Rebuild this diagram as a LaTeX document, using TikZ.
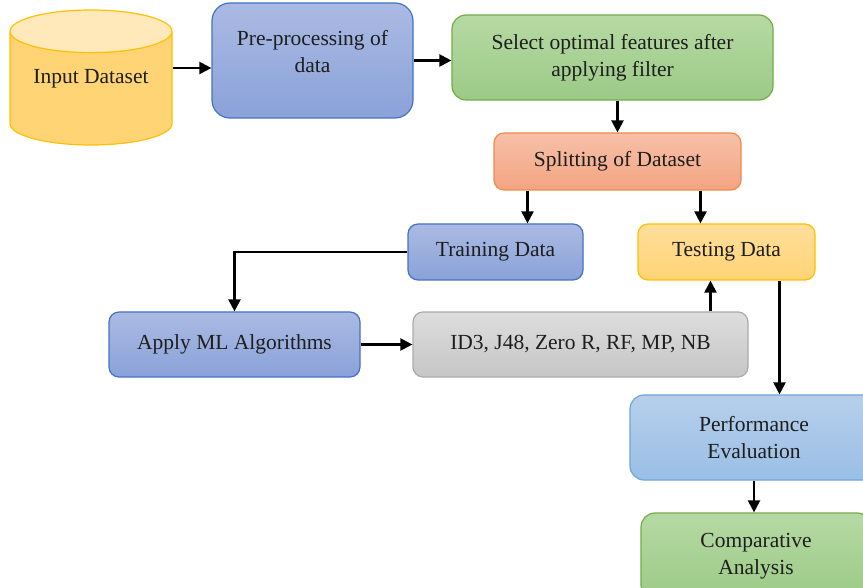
\documentclass[tikz,border=0pt]{standalone}
\usepackage{fontspec}
\setmainfont{Liberation Serif}
\usetikzlibrary{arrows.meta,shapes.geometric}
\definecolor{txt}{HTML}{1E1E1E}
\definecolor{blueline}{HTML}{4472C4}
\definecolor{bluetop}{HTML}{ABBAE3}
\definecolor{bluebot}{HTML}{8AA2D9}
\definecolor{greenline}{HTML}{70AD47}
\definecolor{greentop}{HTML}{B6D9A4}
\definecolor{greenbot}{HTML}{9CCA86}
\definecolor{orangeline}{HTML}{F08A4B}
\definecolor{orangetop}{HTML}{F7C0A8}
\definecolor{orangebot}{HTML}{F3A482}
\definecolor{goldline}{HTML}{FFC000}
\definecolor{goldtop}{HTML}{FFDE9C}
\definecolor{goldbot}{HTML}{FFD475}
\definecolor{greyline}{HTML}{ABABAB}
\definecolor{greytop}{HTML}{DDDDDD}
\definecolor{greybot}{HTML}{C6C6C6}
\definecolor{skyline}{HTML}{6FA5D9}
\definecolor{skytop}{HTML}{B7CFEC}
\definecolor{skybot}{HTML}{99BFE5}
\begin{document}
\begin{tikzpicture}[x=1pt,y=-1pt,
  box/.style={draw,rounded corners=10pt,line width=1.2pt,align=center,text=txt,
    font=\fontsize{21.5}{27}\selectfont},
  bluebox/.style={box,draw=blueline,top color=bluetop,bottom color=bluebot},
  greenbox/.style={box,draw=greenline,top color=greentop,bottom color=greenbot},
  orangebox/.style={box,draw=orangeline,top color=orangetop,bottom color=orangebot},
  goldbox/.style={box,draw=goldline,top color=goldtop,bottom color=goldbot},
  greybox/.style={box,draw=greyline,top color=greytop,bottom color=greybot},
  skybox/.style={box,draw=skyline,top color=skytop,bottom color=skybot},
  arr/.style={-{Triangle[length=12pt,width=12pt]},line width=2.2pt,black}]
\useasboundingbox (0,0) rectangle (863,588);
\node[cylinder,shape border rotate=90,aspect=0.35,minimum width=162pt,minimum height=135pt,
  anchor=shape center,draw=goldline,line width=1.2pt,cylinder uses custom fill,
  cylinder body fill=goldbot,cylinder end fill=goldtop!70!white,text=txt,text depth=30pt,
  font=\fontsize{21.5}{27}\selectfont] (input) at (91,77.5) {Input Dataset};
\node[bluebox,rounded corners=18pt,minimum width=201pt,minimum height=115pt,text depth=18pt] (prep) at (312.5,60.5) {Pre-processing of\\data};
\node[greenbox,rounded corners=14pt,minimum width=321pt,minimum height=85pt] (select) at (612.5,57.5) {Select optimal features after\\applying filter};
\node[orangebox,minimum width=247pt,minimum height=57pt] (split) at (617.5,161.5) {Splitting of Dataset};
\node[bluebox,minimum width=175pt,minimum height=56pt] (train) at (495.5,252) {Training Data};
\node[goldbox,minimum width=177pt,minimum height=56pt] (test) at (726.5,252) {Testing Data};
\node[bluebox,minimum width=251pt,minimum height=65pt] (apply) at (234.5,344.5) {Apply ML Algorithms};
\node[greybox,minimum width=335pt,minimum height=65pt] (algos) at (580.5,344.5) {ID3, J48, Zero R, RF, MP, NB};
\node[skybox,rounded corners=14pt,minimum width=248pt,minimum height=85pt] (perf) at (754,437.5) {Performance\\Evaluation};
\node[greenbox,rounded corners=14pt,minimum width=230pt,minimum height=86pt] (comp) at (756,556) {Comparative\\Analysis};
\draw[arr] ([yshift=23.5pt]input.east) -- ([yshift=23.5pt]input.east -| prep.west);
\draw[arr] (prep.east) -- (prep.east -| select.west);
\draw[arr] (split.north |- select.south) -- (split.north);
\draw[arr] ([xshift=32pt]train.north |- split.south) -- ([xshift=32pt]train.north);
\draw[arr] ([xshift=-26pt]test.north |- split.south) -- ([xshift=-26pt]test.north);
\draw[arr] (train.west) -| (apply.north);
\draw[arr] (apply.east) -- (algos.west);
\draw[arr] ([xshift=-16pt]test.south |- algos.north) -- ([xshift=-16pt]test.south);
\draw[arr] ([xshift=53pt]test.south) -- ([xshift=53pt]test.south |- perf.north);
\draw[arr] (perf.south) -- (perf.south |- comp.north);
\end{tikzpicture}
\end{document}
